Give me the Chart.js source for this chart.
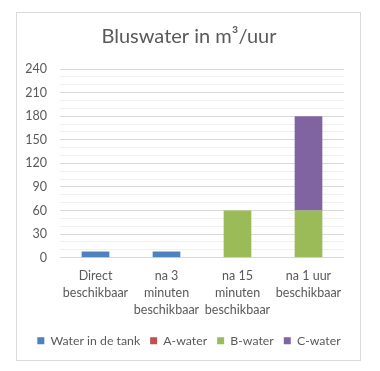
<!DOCTYPE html>
<html>
<head>
<meta charset="utf-8">
<script src="https://cdn.jsdelivr.net/npm/chart.js@4.4.1/dist/chart.umd.min.js"></script>
<style>
  html, body { margin: 0; padding: 0; background: #ffffff; }
  #frame { position: absolute; left: 16px; top: 12px; width: 345px; height: 349px; border: 1px solid #d9d9d9; box-sizing: border-box; }
  #c { position: absolute; left: 0; top: 0; }
</style>
</head>
<body>
<div id="frame"></div>
<canvas id="c" width="380" height="371"></canvas>
<script>
const chartTitle = 'Bluswater in m³/uur';
const categories = [
  ['Direct', 'beschikbaar'],
  ['na 3', 'minuten', 'beschikbaar'],
  ['na 15', 'minuten', 'beschikbaar'],
  ['na 1 uur', 'beschikbaar']
];
const seriesNames = ['Water in de tank', 'A-water', 'B-water', 'C-water'];
const waterInTank = [8, 8, 0, 0];
const aWater = [0, 0, 0, 0];
const bWater = [0, 0, 60, 60];
const cWater = [0, 0, 0, 120];
const yTickLabels = [0, 30, 60, 90, 120, 150, 180, 210, 240];

const colors = ['#4f81bd', '#c0504d', '#9bbb59', '#8064a2'];
const seriesValues = [waterInTank, aWater, bWater, cWater];
const FONT = 'Lato';
const TEXT = '#595959';

new Chart(document.getElementById('c'), {
  type: 'bar',
  data: {
    labels: categories,
    datasets: seriesNames.map((name, i) => ({
      label: name,
      data: seriesValues[i],
      backgroundColor: colors[i],
      borderWidth: 0,
      categoryPercentage: 1,
      barPercentage: 0.39
    }))
  },
  options: {
    responsive: false,
    animation: false,
    devicePixelRatio: 1,
    layout: { padding: { left: 16, right: 18, top: 0, bottom: 14 } },
    plugins: {
      title: {
        display: true,
        text: chartTitle,
        color: TEXT,
        font: { family: FONT, size: 20, weight: 'normal' },
        padding: { top: 25, bottom: 20 }
      },
      legend: {
        position: 'bottom',
        labels: {
          color: TEXT,
          font: { family: FONT, size: 12.3 },
          boxWidth: 7,
          boxHeight: 7,
          padding: 10
        }
      },
      tooltip: { enabled: false }
    },
    scales: {
      x: {
        stacked: true,
        grid: { display: false, drawTicks: false },
        border: { display: false },
        ticks: { color: TEXT, font: { family: FONT, size: 12.5, lineHeight: 1.35 }, padding: 10, maxRotation: 0, autoSkip: false },
        afterFit: (s) => { s.height = 67; }
      },
      y: {
        stacked: true,
        min: 0,
        max: 240,
        grid: {
          drawTicks: false,
          color: (ctx) => (yTickLabels.includes(ctx.tick && ctx.tick.value) ? '#d9d9d9' : '#f0f0f0')
        },
        border: { display: false },
        ticks: {
          stepSize: 10,
          autoSkip: false,
          color: TEXT,
          font: { family: FONT, size: 12.5 },
          padding: 13,
          callback: (v) => (yTickLabels.includes(v) ? String(v) : '')
        },
        afterFit: (s) => { s.width = 44; }
      },
      yRight: {
        position: 'right',
        display: true,
        grid: { display: false, drawTicks: false },
        border: { display: false },
        ticks: { display: false },
        afterFit: (s) => { s.width = 18; }
      }
    }
  }
});
</script>
</body>
</html>
